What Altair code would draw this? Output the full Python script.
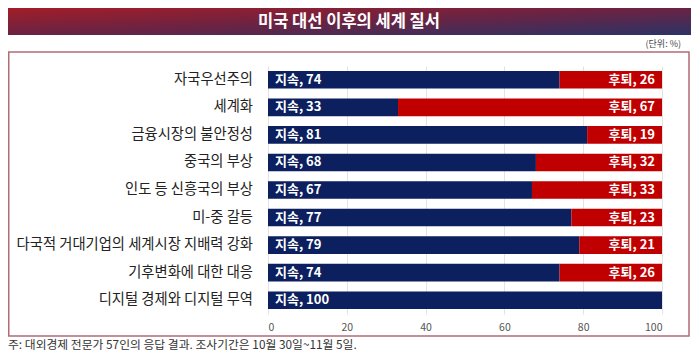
import altair as alt
import pandas as pd

categories = ["자국우선주의", "세계화", "금융시장의 불안정성", "중국의 부상", "인도 등 신흥국의 부상",
              "미-중 갈등", "다국적 거대기업의 세계시장 지배력 강화", "기후변화에 대한 대응", "디지털 경제와 디지털 무역"]
sustain = [74, 33, 81, 68, 67, 77, 79, 74, 100]
retreat = [26, 67, 19, 32, 33, 23, 21, 26, 0]
types = ["지속", "후퇴"]
title_text = "미국 대선 이후의 세계 질서"
unit_text = "(단위: %)"
note_text = "주: 대외경제 전문가 57인의 응답 결과. 조사기간은 10월 30일~11월 5일."
x_ticks = [0, 20, 40, 60, 80, 100]

rows = []
for c, s, r in zip(categories, sustain, retreat):
    rows.append({"category": c, "type": types[0], "value": s, "ord": 0})
    rows.append({"category": c, "type": types[1], "value": r, "ord": 1})
df = pd.DataFrame(rows)
cat_df = pd.DataFrame({"category": categories})

FONT = "Noto Sans CJK KR"
NAVY = "#0c1f5e"
RED = "#c00000"

W, H = 394, 248

y_enc = alt.Y("category:N", sort=categories, title=None,
              scale=alt.Scale(paddingInner=0.36, paddingOuter=0.18),
              axis=alt.Axis(labels=False))

bars = alt.Chart(df).mark_bar().encode(
    x=alt.X("value:Q", stack="zero", title=None,
            scale=alt.Scale(domain=[0, 100], nice=False),
            axis=alt.Axis(values=x_ticks)),
    y=y_enc,
    color=alt.Color("type:N", scale=alt.Scale(domain=types, range=[NAVY, RED]), legend=None),
    order=alt.Order("ord:Q"),
)

cat_labels = alt.Chart(cat_df).mark_text(align="right", baseline="middle", dx=-15, color="#222",
                                         fontSize=14.3, font=FONT).encode(
    x=alt.X(datum=0), y=y_enc, text="category:N")

lab_s = alt.Chart(df).transform_filter(alt.datum.type == types[0]).transform_calculate(
    lab=alt.datum.type + ", " + alt.datum.value
).mark_text(align="left", baseline="middle", dx=7, color="white", fontWeight="bold",
            fontSize=13, font=FONT).encode(
    x=alt.X(datum=0), y=y_enc, text="lab:N")

lab_r = alt.Chart(df).transform_filter((alt.datum.type == types[1]) & (alt.datum.value > 0)).transform_calculate(
    lab=alt.datum.type + ", " + alt.datum.value
).mark_text(align="right", baseline="middle", dx=-7, color="white", fontWeight="bold",
            fontSize=13, font=FONT).encode(
    x=alt.X(datum=100), y=y_enc, text="lab:N")

one = pd.DataFrame({"a": [0]})

border = alt.Chart(one).mark_rect(fill=None, stroke="#b36b7a", strokeWidth=1.5).encode(
    x=alt.value(-259.25), x2=alt.value(421), y=alt.value(-14), y2=alt.value(270))

banner = alt.Chart(one).mark_rect(
    color=alt.Gradient(gradient="linear", x1=0, y1=0, x2=1, y2=1,
                       stops=[alt.GradientStop(color="#a21d28", offset=0),
                              alt.GradientStop(color="#6a2343", offset=0.5),
                              alt.GradientStop(color="#2b3366", offset=1)])
).encode(x=alt.value(-260), x2=alt.value(423), y=alt.value(-58), y2=alt.value(-31))

title = alt.Chart(one).mark_text(text=title_text, color="white", fontSize=16.5, fontWeight="bold",
                                 font=FONT, align="center", baseline="middle").encode(
    x=alt.value(81), y=alt.value(-44))

unit = alt.Chart(one).mark_text(text=unit_text, color="#444", fontSize=9, font=FONT,
                                align="right", baseline="middle").encode(
    x=alt.value(413), y=alt.value(-22))

note = alt.Chart(one).mark_text(text=note_text, color="#333", fontSize=11.8, font=FONT,
                                align="left", baseline="middle").encode(
    x=alt.value(-260), y=alt.value(279))

chart = alt.layer(border, banner, title, unit, bars, cat_labels, lab_s, lab_r, note).properties(
    width=W, height=H,
    autosize=alt.AutoSizeParams(type="none"),
    padding={"left": 260, "top": 58, "right": 29, "bottom": 38},
).configure_view(stroke=None).configure_axisY(
    ticks=False, domain=False, grid=False, labels=False, title=None
).configure_axisX(
    grid=True, gridColor="#e3e3e3", labelFontSize=10.5, labelColor="#555", labelFont=FONT,
    ticks=False, domain=False, labelPadding=8, title=None
)

chart.save("out.html", embed_options={"renderer": "svg", "actions": False})
